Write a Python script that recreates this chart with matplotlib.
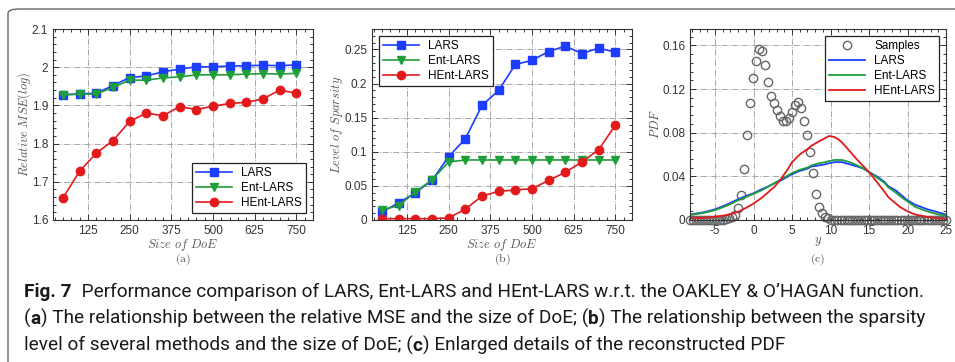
import matplotlib
matplotlib.use("Agg")
import matplotlib.pyplot as plt
from matplotlib.patches import FancyBboxPatch
from matplotlib.ticker import MultipleLocator

# ---- data ----
doe = [50, 100, 150, 200, 250, 300, 350, 400, 450, 500, 550, 600, 650, 700, 750]

mse_lars = [1.928, 1.930, 1.932, 1.952, 1.973, 1.977, 1.988, 1.995, 2.001, 2.001,
            2.003, 2.004, 2.005, 2.004, 2.006]
mse_ent = [1.928, 1.929, 1.930, 1.947, 1.966, 1.966, 1.972, 1.975, 1.980, 1.980,
           1.980, 1.982, 1.983, 1.982, 1.984]
mse_hent = [1.658, 1.728, 1.775, 1.808, 1.858, 1.880, 1.873, 1.897, 1.889, 1.898,
            1.905, 1.908, 1.917, 1.940, 1.932]

sp_lars = [0.012, 0.025, 0.040, 0.058, 0.093, 0.119, 0.168, 0.190, 0.228, 0.234,
           0.247, 0.255, 0.244, 0.252, 0.246]
sp_ent = [0.015, 0.021, 0.041, 0.059, 0.085, 0.088, 0.088, 0.088, 0.088, 0.088,
          0.088, 0.088, 0.088, 0.088, 0.088]
sp_hent = [0.002, 0.002, 0.002, 0.002, 0.003, 0.016, 0.035, 0.042, 0.044, 0.046,
           0.058, 0.070, 0.085, 0.103, 0.139]

# samples (histogram-like PDF points)
samp_x = [-8.2, -7.8, -7.5, -7.1, -6.7, -6.3, -5.9, -5.5, -5.1, -4.7, -4.3, -3.9,
          -3.55, -3.16, -2.77, -2.38, -1.99, -1.6, -1.21, -0.82, -0.43, -0.04,
          0.35, 0.74, 1.13, 1.52, 1.91, 2.3, 2.69, 3.08, 3.47, 3.86, 4.25, 4.64,
          5.03, 5.42, 5.81, 6.2, 6.59, 6.98, 7.37, 7.76, 8.15, 8.54, 8.93, 9.32, 9.71,
          10.1, 10.5, 10.9, 11.3, 11.7, 12.1, 12.4, 12.8, 13.2, 13.6, 14.0, 14.4,
          14.8, 15.2, 15.6, 16.0, 16.4, 16.8, 17.1, 17.5, 17.9, 18.3, 18.7, 19.1,
          19.5, 19.9, 20.3, 20.7, 21.1, 21.5, 21.8, 22.2, 22.6, 23.0, 23.4, 23.8,
          24.2, 24.6, 25.0]
samp_y = [0, 0, 0, 0, 0, 0, 0, 0, 0, 0, 0, 0,
          0.001, 0.0015, 0.003, 0.005, 0.011, 0.023, 0.047, 0.078, 0.107, 0.130,
          0.146, 0.157, 0.155, 0.142, 0.126, 0.114, 0.107, 0.101, 0.095, 0.091, 0.091, 0.093,
          0.099, 0.105, 0.108, 0.103, 0.091, 0.078, 0.062, 0.043, 0.024, 0.012, 0.006, 0.003, 0.0015,
          0, 0, 0, 0, 0, 0, 0, 0, 0, 0, 0, 0,
          0, 0, 0, 0, 0, 0, 0, 0, 0, 0, 0, 0,
          0, 0, 0, 0, 0, 0, 0, 0, 0, 0, 0, 0,
          0, 0, 0]

pdf_x = [-8.25, -6.5, -5, -3.5, -2, -1, 0, 1, 2, 2.8, 3.5, 4.5, 5, 6, 7, 7.5, 8.5,
         9.3, 9.8, 10.5, 11, 11.5, 12.5, 13.5, 14.3, 15, 16, 17, 17.5, 18.5, 19,
         20, 21, 22.5, 24, 25]
pdf_lars = [0.005, 0.007, 0.0098, 0.014, 0.019, 0.022, 0.0245, 0.028, 0.031, 0.034,
            0.036, 0.040, 0.042, 0.045, 0.047, 0.049, 0.050, 0.051, 0.052, 0.053,
            0.053, 0.053, 0.051, 0.049, 0.047, 0.044, 0.040, 0.035, 0.031, 0.027, 0.024,
            0.018, 0.014, 0.010, 0.007, 0.005]
pdf_ent = [0.0045, 0.0065, 0.009, 0.013, 0.018, 0.021, 0.024, 0.027, 0.031, 0.034,
           0.037, 0.041, 0.043, 0.046, 0.048, 0.050, 0.052, 0.053, 0.054, 0.055,
           0.055, 0.055, 0.053, 0.050, 0.047, 0.044, 0.039, 0.034, 0.030, 0.025, 0.022,
           0.017, 0.012, 0.008, 0.005, 0.004]
pdf_hent = [0.0015, 0.002, 0.003, 0.0045, 0.0075, 0.011, 0.015, 0.020, 0.026, 0.031,
            0.037, 0.047, 0.053, 0.060, 0.065, 0.068, 0.072, 0.075, 0.077, 0.076,
            0.074, 0.071, 0.063, 0.055, 0.049, 0.044, 0.035, 0.026, 0.021, 0.015, 0.012,
            0.008, 0.005, 0.003, 0.0015, 0.001]

labels = ["LARS", "Ent-LARS", "HEnt-LARS"]
c_blue, c_green, c_red = "#1c3cff", "#1f9e3a", "#e31a1c"

plt.rcParams["mathtext.fontset"] = "cm"
plt.rcParams["axes.unicode_minus"] = False
plt.rcParams["font.family"] = ["Liberation Sans", "DejaVu Sans"]

W, H = 9.55, 3.62
fig = plt.figure(figsize=(W, H), dpi=100)

# rounded frame around the whole figure, cut off at right/bottom
frame = FancyBboxPatch((8 / 955, -0.2), 1.2, 1.2 - 9 / 362,
                       boxstyle="round,pad=0,rounding_size=0.012",
                       transform=fig.transFigure, fill=False,
                       edgecolor="#666666", linewidth=1.0)
fig.patches.append(frame)

ax_w, ax_h = 260 / 955, 191 / 362
ax_b = 1 - 220 / 362
ax_a = fig.add_axes([53 / 955, ax_b, ax_w, ax_h])
ax_bb = fig.add_axes([372 / 955, ax_b, ax_w, ax_h])
ax_c = fig.add_axes([690 / 955, ax_b, 256 / 955, ax_h])

tick_col = "#333333"
lab_col = "#555555"


def style_axes(ax):
    ax.tick_params(which="both", direction="in", top=True, right=True,
                   labelsize=8.5, labelcolor=tick_col, color="#333333", width=0.7)
    ax.tick_params(which="major", length=4)
    ax.tick_params(which="minor", length=2.2)
    for s in ax.spines.values():
        s.set_color("#333333")
        s.set_linewidth(0.8)
    ax.grid(True, which="major", linestyle="-.", color="#a8a8a8", linewidth=0.7)
    ax.set_axisbelow(True)


def legend(ax, loc, **kw):
    lg = ax.legend(loc=loc, fontsize=8.5, frameon=True, fancybox=False,
                   edgecolor="#222222", framealpha=1, handlelength=3.0,
                   borderpad=0.35, labelspacing=0.25, borderaxespad=0.6, **kw)
    lg.get_frame().set_linewidth(0.9)
    return lg


mk = dict(markersize=6, linewidth=1.2)

# (a)
ax_a.plot(doe, mse_lars, "-s", color=c_blue, label=labels[0], **mk)
ax_a.plot(doe, mse_ent, "-v", color=c_green, label=labels[1], **mk)
ax_a.plot(doe, mse_hent, "-o", color=c_red, label=labels[2], **mk)
ax_a.set_xlim(20, 800)
ax_a.set_ylim(1.6, 2.1)
ax_a.set_xticks([125, 250, 375, 500, 625, 750])
ax_a.set_yticks([1.6, 1.7, 1.8, 1.9, 2.0, 2.1])
ax_a.set_yticklabels(["1.6", "1.7", "1.8", "1.9", "2", "2.1"])
ax_a.xaxis.set_minor_locator(MultipleLocator(25))
ax_a.yaxis.set_minor_locator(MultipleLocator(0.02))
style_axes(ax_a)
legend(ax_a, "lower right")
ax_a.set_ylabel(r"$Relative\ MSE(log)$", color=lab_col, fontsize=9, labelpad=-1)

# (b)
ax_bb.plot(doe, sp_lars, "-s", color=c_blue, label=labels[0], **mk)
ax_bb.plot(doe, sp_ent, "-v", color=c_green, label=labels[1], **mk)
ax_bb.plot(doe, sp_hent, "-o", color=c_red, label=labels[2], **mk)
ax_bb.set_xlim(20, 800)
ax_bb.set_ylim(0, 0.28)
ax_bb.set_xticks([125, 250, 375, 500, 625, 750])
ax_bb.set_yticks([0, 0.05, 0.1, 0.15, 0.2, 0.25])
ax_bb.set_yticklabels(["0", "0.05", "0.1", "0.15", "0.2", "0.25"])
ax_bb.xaxis.set_minor_locator(MultipleLocator(25))
ax_bb.yaxis.set_minor_locator(MultipleLocator(0.01))
style_axes(ax_bb)
legend(ax_bb, "upper left")
ax_bb.set_ylabel(r"$Level\ of\ Sparsity$", color=lab_col, fontsize=9, labelpad=-1)

for ax in (ax_a, ax_bb):
    ax.set_xlabel(r"$Size\ of\ DoE$", color=lab_col, fontsize=9, labelpad=0)

# (c)
ax_c.plot(samp_x, samp_y, "o", markerfacecolor="none", markeredgecolor="#666666",
          markersize=6, markeredgewidth=1.0, label="Samples", clip_on=False)
ax_c.plot(pdf_x, pdf_lars, "-", color=c_blue, linewidth=1.3, label=labels[0])
ax_c.plot(pdf_x, pdf_ent, "-", color=c_green, linewidth=1.3, label=labels[1])
ax_c.plot(pdf_x, pdf_hent, "-", color=c_red, linewidth=1.3, label=labels[2])
ax_c.set_xlim(-8.25, 25)
ax_c.set_ylim(0, 0.175)
ax_c.set_xticks([-5, 0, 5, 10, 15, 20, 25])
ax_c.set_yticks([0, 0.04, 0.08, 0.12, 0.16])
ax_c.set_yticklabels(["0", "0.04", "0.08", "0.12", "0.16"])
ax_c.xaxis.set_minor_locator(MultipleLocator(1))
ax_c.yaxis.set_minor_locator(MultipleLocator(0.008))
style_axes(ax_c)
legend(ax_c, "upper right")
ax_c.set_ylabel(r"$PDF$", color=lab_col, fontsize=9, labelpad=0)
ax_c.set_xlabel(r"$y$", color=lab_col, fontsize=9, labelpad=-1)

# sub-figure tags
for ax, tag in ((ax_a, "(a)"), (ax_bb, "(b)"), (ax_c, "(c)")):
    pos = ax.get_position()
    fig.text(pos.x0 + pos.width / 2, 1 - 259 / 362, r"$\mathrm{" + tag + "}$",
             ha="center", va="center", color=lab_col, fontsize=8.5)

# ---- caption with mixed weights ----
cap_font = ["Liberation Sans Narrow", "Roboto", "DejaVu Sans"]
cap_lines = [
    [("Fig. 7", "bold"),
     ("  Performance comparison of LARS, Ent-LARS and HEnt-LARS w.r.t. the OAKLEY & O\u2019HAGAN function.", "normal")],
    [("(", "normal"), ("a", "bold"),
     (") The relationship between the relative MSE and the size of DoE; (", "normal"),
     ("b", "bold"), (") The relationship between the sparsity", "normal")],
    [("level of several methods and the size of DoE; (", "normal"), ("c", "bold"),
     (") Enlarged details of the reconstructed PDF", "normal")],
]
cap_y = [297, 324, 351]

renderer = fig.canvas.get_renderer()
for segs, yb in zip(cap_lines, cap_y):
    x = 24.0
    for s, wgt in segs:
        t = fig.text(x / 955, 1 - yb / 362, s, fontsize=13.7, fontweight=wgt,
                     family=cap_font, color="#1a1a1a", va="baseline", ha="left")
        x += t.get_window_extent(renderer).width

fig.savefig("out.png", dpi=100)
